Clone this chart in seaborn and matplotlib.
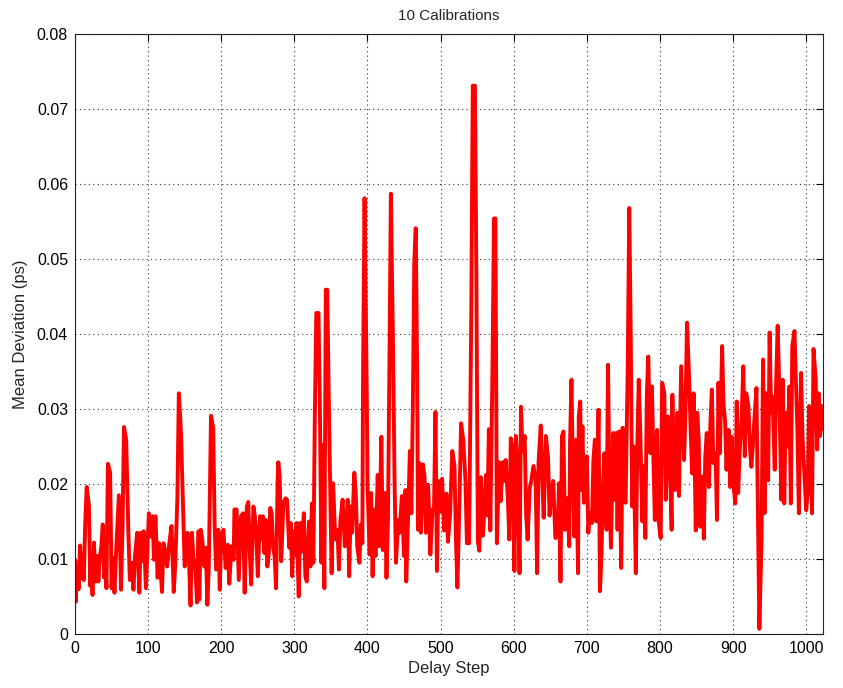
import numpy as np
import pandas as pd
import matplotlib
matplotlib.use("Agg")
import matplotlib.pyplot as plt
import seaborn as sns

# Delay steps and mean deviation values (in fs; converted to ps below)
steps_a = [0, 1, 3, 5, 7, 9, 11, 12, 14, 16, 19, 21, 22, 24, 26, 28, 30, 32, 34, 36,
           38, 40, 42, 43, 45, 48, 49, 50, 52, 54, 56, 58, 60, 63, 65, 67, 70, 73, 75, 77,
           78, 80, 82, 85, 88, 90, 92, 94, 97, 99, 101, 104, 106, 108, 110, 113, 115, 117, 119, 121,
           124, 126, 129, 132, 135, 137, 140, 142, 145, 148, 150, 152, 154, 156, 158, 160, 162, 164, 167]
dev_a = [9.9, 4.3, 9.5, 6.0, 11.8, 7.5, 9.0, 7.2, 14.8, 19.6, 17.2, 6.4, 9.5, 5.2, 12.2, 7.0, 10.4, 7.0, 10.2, 11.7,
         14.6, 7.5, 9.0, 6.1, 22.7, 21.5, 14.4, 6.1, 10.1, 5.5, 10.4, 14.4, 18.5, 5.9, 14.4, 27.6, 25.9, 13.5, 7.2, 9.5,
         8.6, 5.9, 10.4, 13.5, 5.5, 13.5, 9.7, 13.7, 6.1, 11.0, 16.1, 13.0, 15.7, 9.9, 15.7, 7.5, 12.1, 8.5, 5.6, 12.1,
         10.8, 9.0, 12.1, 14.4, 5.6, 9.0, 18.1, 32.1, 26.8, 16.1, 9.0, 11.0, 13.5, 9.5, 3.8, 13.5, 10.0, 9.5, 4.2]

steps_b = [169, 170, 172, 174, 177, 179, 181, 183, 186, 189, 191, 193, 196, 198, 200, 203, 206, 209, 211, 214,
           217, 218, 221, 224, 227, 230, 232, 235, 237, 239, 241, 244, 246, 248, 250, 253, 255, 257, 259, 261,
           263, 265, 267, 269, 271, 273, 275, 277, 278, 280, 282, 285, 288, 290, 293, 295, 297, 299, 301, 303,
           306, 308, 310, 313, 315, 317]
dev_b = [13.7, 4.6, 13.9, 12.6, 9.0, 11.5, 3.9, 9.0, 29.1, 27.5, 14.4, 8.6, 13.9, 5.9, 13.0, 13.9, 8.8, 11.9, 6.7, 11.7,
         9.9, 16.6, 16.6, 7.2, 15.7, 16.1, 5.5, 17.0, 17.6, 10.8, 6.6, 17.0, 15.7, 13.0, 7.7, 15.7, 12.6, 15.7, 10.8, 15.2,
         9.0, 10.6, 16.8, 16.1, 11.5, 10.4, 6.1, 20.1, 22.9, 21.0, 9.7, 17.5, 18.1, 17.9, 11.5, 14.8, 7.7, 13.7, 10.5, 14.8,
         5.0, 14.8, 11.0, 16.1, 7.7, 7.0]

steps_c = [320, 322, 324, 326, 328, 330, 333, 335, 337, 339, 341, 343, 345, 347, 349, 351, 353, 356, 359, 361,
           363, 366, 369, 371, 373, 375, 377, 379, 382, 384, 386, 389, 391, 393, 394, 396, 399, 400, 403, 405,
           407, 409, 411, 414, 416, 419, 421, 424, 426, 428, 430, 432, 435, 437, 439, 442, 444, 447, 450, 452,
           453, 455, 458, 460, 462, 464, 466, 468, 469, 471, 473, 476, 478, 480, 483, 486, 489]
dev_c = [15.0, 9.0, 17.4, 9.5, 29.0, 42.8, 42.8, 29.5, 9.5, 25.2, 6.1, 45.9, 45.9, 31.7, 20.1, 8.1, 20.1, 12.6, 13.9, 8.6,
         15.2, 17.9, 11.7, 14.0, 17.9, 7.7, 17.0, 13.5, 21.5, 18.8, 11.7, 9.5, 14.6, 12.1, 35.5, 58.1, 32.6, 20.1, 10.6, 18.8,
         7.7, 16.6, 10.4, 21.2, 11.7, 26.3, 11.2, 18.8, 7.5, 15.2, 35.7, 58.7, 37.9, 20.6, 9.5, 15.2, 13.5, 18.4, 10.4, 19.2,
         7.0, 13.5, 24.4, 16.1, 29.9, 49.5, 54.1, 34.6, 13.9, 22.8, 13.5, 22.6, 21.0, 13.5, 19.9, 10.6, 16.6]

steps_d = [491, 493, 495, 497, 499, 502, 505, 508, 510, 513, 516, 519, 521, 523, 526, 528, 531, 534, 536, 539,
           540, 542, 544, 547, 549, 551, 553, 555, 558, 560, 562, 564, 566, 568, 571, 573, 575, 577, 580, 582,
           585, 587, 589, 592, 594, 596, 598, 601, 603, 605, 608, 610, 612, 615, 617, 619, 622, 624, 627, 630,
           632, 634, 637, 639, 641, 644, 647, 649, 651, 654, 657]
dev_d = [16.8, 29.6, 8.4, 20.4, 16.3, 20.7, 13.8, 18.7, 12.3, 16.0, 24.4, 22.4, 12.6, 6.2, 18.5, 28.1, 25.9, 20.4, 12.1, 12.1,
         22.4, 43.1, 73.1, 73.1, 46.8, 12.3, 11.1, 20.9, 13.1, 17.0, 21.2, 15.8, 27.3, 13.8, 35.7, 55.4, 55.4, 12.1, 22.9, 17.7,
         22.9, 20.4, 23.2, 18.0, 12.6, 26.1, 24.9, 8.4, 26.4, 22.9, 8.1, 30.3, 24.4, 26.4, 16.0, 12.6, 19.5, 20.4, 22.4, 20.7,
         8.1, 22.9, 27.8, 20.9, 15.5, 26.4, 23.4, 15.8, 18.2, 20.4, 12.8]

steps_e = [660, 662, 664, 666, 668, 670, 673, 676, 677, 679, 681, 683, 685, 688, 689, 691, 692, 694, 696, 698,
           700, 702, 704, 707, 709, 711, 713, 716, 718, 720, 722, 724, 727, 729, 731, 733, 736, 738, 740, 742,
           744, 747, 749, 751, 753, 756, 758, 760, 762, 764, 767, 769, 771, 773, 776, 778, 780, 782, 784, 787,
           789, 791, 793, 796, 798, 801, 803, 806, 808, 811, 813, 816, 817, 819, 821, 824, 826]
dev_e = [13.0, 20.1, 7.0, 26.4, 27.0, 13.9, 18.1, 11.7, 25.5, 33.9, 21.0, 13.0, 25.9, 8.1, 29.0, 31.0, 19.2, 27.7, 17.5, 20.0,
         23.7, 13.5, 16.1, 14.8, 23.2, 25.9, 15.0, 29.9, 5.7, 10.4, 19.7, 24.1, 13.9, 35.9, 18.8, 11.5, 26.8, 17.9, 26.8, 13.9,
         27.0, 8.8, 27.5, 18.4, 17.5, 35.9, 56.8, 40.4, 17.0, 25.0, 8.1, 24.8, 33.9, 27.2, 15.0, 22.4, 12.8, 31.5, 37.0, 24.1,
         33.0, 23.7, 15.2, 27.2, 15.2, 12.8, 33.5, 32.1, 17.9, 29.0, 25.0, 13.9, 31.9, 19.7, 19.2, 29.5, 18.4]

steps_f = [829, 833, 835, 837, 840, 842, 844, 846, 849, 851, 853, 855, 858, 860, 862, 864, 867, 869, 871, 873,
           876, 878, 880, 882, 885, 887, 889, 891, 894, 896, 898, 900, 903, 905, 907, 909, 912, 914, 916, 918,
           921, 923, 925, 927, 930, 932, 934, 936, 939, 941, 943, 945, 948, 950, 952, 954, 957, 959, 961, 963,
           966, 968, 970, 972, 975, 977, 979, 981, 984, 986, 988, 990, 993, 995, 997, 1000, 1002, 1004, 1006, 1008,
           1010, 1013, 1015, 1017, 1019, 1021, 1023]
dev_f = [35.7, 23.2, 29.9, 41.5, 33.9, 27.2, 21.4, 32.1, 13.8, 29.5, 25.9, 14.3, 21.0, 12.7, 23.7, 26.8, 19.6, 28.1, 32.6, 22.8,
         24.1, 15.2, 33.5, 24.1, 38.4, 30.4, 28.6, 21.9, 27.2, 19.6, 26.3, 20.5, 17.4, 31.0, 18.8, 24.1, 29.5, 35.7, 23.7, 32.1,
         30.4, 25.0, 22.3, 25.0, 29.9, 32.8, 16.1, 0.7, 12.9, 36.6, 16.1, 32.1, 20.5, 40.2, 29.5, 31.7, 21.9, 33.9, 41.1, 33.5,
         17.9, 33.9, 17.4, 29.5, 25.0, 33.0, 17.4, 38.4, 40.4, 33.9, 27.2, 16.1, 34.8, 26.3, 22.3, 16.5, 18.8, 30.4, 22.8, 16.1,
         38.0, 34.0, 24.6, 32.1, 26.4, 30.4, 27.3]

x_ticks = [0, 100, 200, 300, 400, 500, 600, 700, 800, 900, 1000]
y_ticks = [0, 0.01, 0.02, 0.03, 0.04, 0.05, 0.06, 0.07, 0.08]
y_tick_labels = ["0", "0.01", "0.02", "0.03", "0.04", "0.05", "0.06", "0.07", "0.08"]

steps = np.concatenate([steps_a, steps_b, steps_c, steps_d, steps_e, steps_f])
dev_ps = np.concatenate([dev_a, dev_b, dev_c, dev_d, dev_e, dev_f]) / 1000.0  # fs -> ps
df = pd.DataFrame({"Delay Step": steps, "Mean Deviation (ps)": dev_ps})

sns.set_theme(style="white")
plt.rcParams["font.family"] = ["Liberation Sans", "DejaVu Sans"]

W, H = 843, 688
fig = plt.figure(figsize=(W / 100, H / 100), dpi=100)
left, right, top, bottom = 75, 823, 34, 634
ax = fig.add_axes([left / W, 1 - bottom / H, (right - left) / W, (bottom - top) / H])

sns.lineplot(data=df, x="Delay Step", y="Mean Deviation (ps)", color="#ff0000",
             linewidth=2.8, estimator=None, sort=False, ax=ax)

ax.set_xlim(0, 1023)
ax.set_ylim(0, 0.08)
ax.set_xticks(x_ticks)
ax.set_yticks(y_ticks)
ax.set_yticklabels(y_tick_labels)
ax.grid(True, linestyle=(0, (1, 3)), color="#333333", linewidth=0.8)
ax.set_axisbelow(True)
ax.tick_params(direction="in", top=True, right=True, length=5, width=0.8,
               labelsize=11.5, colors="black", pad=5)
for s in ax.spines.values():
    s.set_color("#222222")
    s.set_linewidth(0.8)

ax.set_title("10 Calibrations", fontsize=11, pad=10)
ax.set_xlabel("Delay Step", fontsize=12, labelpad=4)
ax.set_ylabel("Mean Deviation (ps)", fontsize=12, labelpad=6)

fig.savefig("out.png", dpi=100)
